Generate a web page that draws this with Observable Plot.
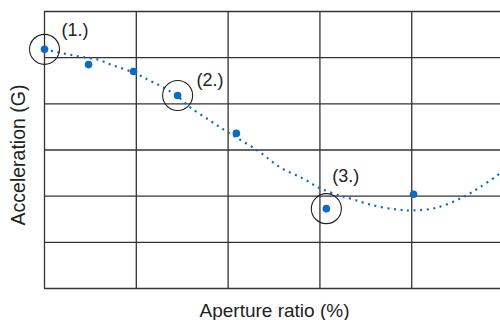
<!DOCTYPE html>
<html>
<head>
<meta charset="utf-8">
<script src="https://cdn.jsdelivr.net/npm/d3@7"></script>
<script src="https://cdn.jsdelivr.net/npm/@observablehq/plot@0.6"></script>
<style>
  html, body { margin: 0; padding: 0; background: #fff; overflow: hidden; }
  #chart svg { display: block; font-family: "Liberation Sans", Arial, sans-serif; }
</style>
</head>
<body>
<div id="chart"></div>
<script>
// Measured points (grid units: x in aperture-ratio grid steps, y in acceleration grid steps)
const pointX = [0, 0.48, 0.97, 1.45, 2.09, 3.07, 4.02];
const pointY = [5.18, 4.85, 4.70, 4.18, 3.36, 1.73, 2.04];
// Annotated points (index into the points) and their labels
const annotatedIndex = [0, 3, 5];
const annotationLabels = ["(1.)", "(2.)", "(3.)"];
// Dotted trend curve
const curveX = [0, 0.21, 0.39, 0.58, 0.75, 0.97, 1.15, 1.29, 1.45, 1.59, 1.80, 2.0, 2.32, 2.57, 2.82, 3.0, 3.22, 3.33, 3.58, 3.84, 4.01, 4.27, 4.55, 4.74, 4.96];
const curveY = [5.18, 5.09, 5.02, 4.96, 4.83, 4.68, 4.50, 4.36, 4.16, 3.92, 3.64, 3.38, 2.99, 2.62, 2.38, 2.17, 2.01, 1.95, 1.80, 1.71, 1.69, 1.75, 1.97, 2.19, 2.49];
const xGrid = [0, 1, 2, 3, 4];
const yGrid = [0, 1, 2, 3, 4, 5, 6];
const xLabel = "Aperture ratio (%)";
const yLabel = "Acceleration (G)";

const points = pointX.map((x, i) => ({x, y: pointY[i]}));
const curve = curveX.map((x, i) => ({x, y: curveY[i]}));
const annotated = annotatedIndex.map((k, i) => ({...points[k], label: annotationLabels[i]}));

const blue = "#0b6bc1";
const gridColor = "#333";

const chart = Plot.plot({
  width: 500,
  height: 320,
  marginTop: 11,
  marginBottom: 32,
  marginLeft: 44,
  marginRight: 0,
  x: {domain: [0, 4.967], axis: null},
  y: {domain: [0, 6], axis: null},
  style: {fontFamily: "Liberation Sans, Arial, sans-serif", background: "#fff"},
  marks: [
    Plot.ruleX(xGrid, {x: d => d, stroke: gridColor, strokeWidth: 1.3}),
    Plot.ruleY(yGrid, {y: d => d, stroke: gridColor, strokeWidth: 1.3}),
    Plot.line(curve, {x: "x", y: "y", curve: "catmull-rom", stroke: blue, strokeWidth: 2.2, strokeDasharray: "2,4.6", strokeLinecap: "butt"}),
    Plot.dot(points, {x: "x", y: "y", r: 3.8, fill: blue, stroke: "none"}),
    Plot.dot(annotated, {x: "x", y: "y", r: 15, fill: "none", stroke: "#222", strokeWidth: 1.1}),
    Plot.text([annotated[0]], {x: "x", y: "y", text: "label", dx: 17, dy: -19, textAnchor: "start", fontSize: 18, fill: "#222"}),
    Plot.text([annotated[1]], {x: "x", y: "y", text: "label", dx: 19, dy: -15, textAnchor: "start", fontSize: 18, fill: "#222"}),
    Plot.text([annotated[2]], {x: "x", y: "y", text: "label", dx: 6, dy: -32, textAnchor: "start", fontSize: 18, fill: "#222"}),
    Plot.text([xLabel], {text: d => d, frameAnchor: "bottom", textAnchor: "middle", lineAnchor: "middle", dx: 2, dy: 22, fontSize: 19, fill: "#222"}),
    Plot.text([yLabel], {text: d => d, frameAnchor: "left", textAnchor: "middle", lineAnchor: "middle", rotate: -90, dx: -26, dy: 5, fontSize: 19.5, fill: "#222"})
  ]
});
document.getElementById("chart").appendChild(chart);
</script>
</body>
</html>
